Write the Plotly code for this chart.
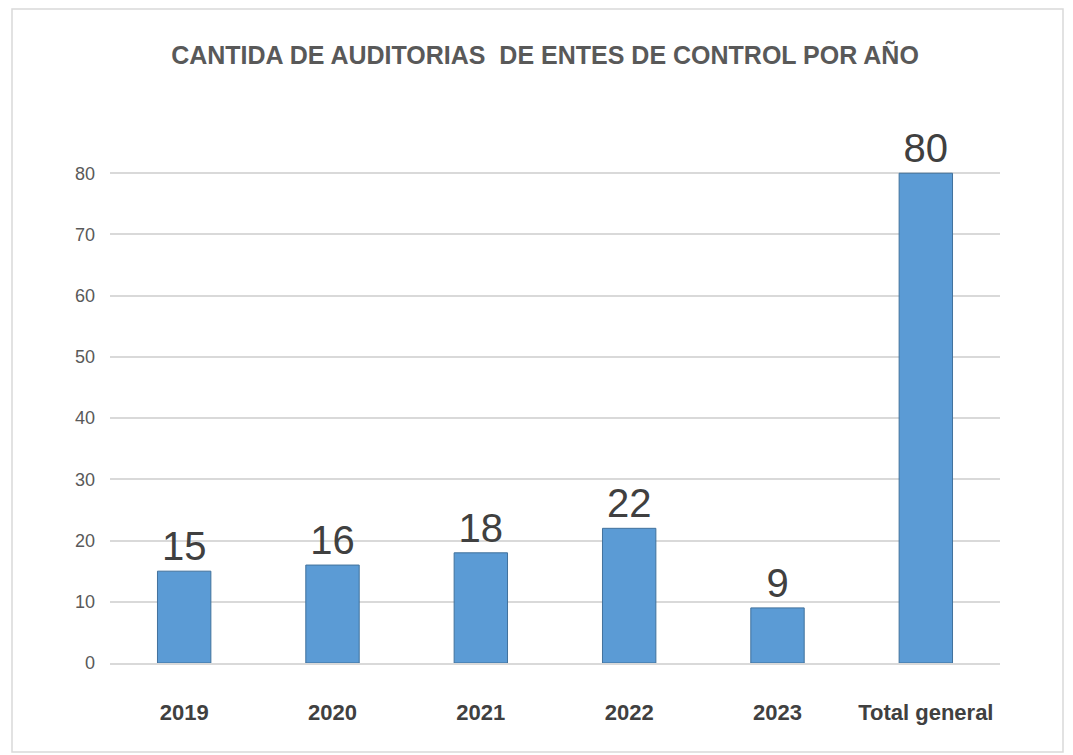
import plotly.graph_objects as go

categories = ["2019", "2020", "2021", "2022", "2023", "Total general"]
values = [15, 16, 18, 22, 9, 80]
y_ticks = [0, 10, 20, 30, 40, 50, 60, 70, 80]

# page has an 8px body margin; figure sized to fit the window
W, H = 1065, 747
ML, MR, MT, MB = 102, 73, 153, 92
FONT = "Liberation Sans, Arial, sans-serif"

fig = go.Figure()
fig.add_trace(go.Bar(
    x=categories, y=values,
    marker=dict(color="#5B9BD5", line=dict(color="#41719C", width=1)),
    width=0.36,
    text=[str(v) for v in values],
    textposition="outside",
    textfont=dict(size=40, color="#404040", family=FONT),
    cliponaxis=False,
))

pw = W - ML - MR
ph = H - MT - MB
fig.add_shape(type="rect", xref="paper", yref="paper",
              x0=(4 - ML) / pw, x1=(1055 - ML) / pw,
              y0=(H - MB - 744) / ph, y1=(H - MB - 1) / ph,
              line=dict(color="#D9D9D9", width=1.5), fillcolor="rgba(0,0,0,0)", layer="below")

fig.update_layout(
    width=W, height=H,
    margin=dict(l=ML, r=MR, t=MT, b=MB),
    paper_bgcolor="white", plot_bgcolor="white",
    title=dict(text="<b>CANTIDA DE AUDITORIAS  DE ENTES DE CONTROL POR AÑO</b>",
               x=537 / W, xanchor="center", y=1 - 47 / H, yanchor="middle",
               font=dict(size=25, color="#595959", family=FONT)),
    showlegend=False,
)
fig.update_xaxes(showgrid=False, showline=True, linecolor="#D9D9D9", linewidth=1.5,
                 ticks="", tickfont=dict(size=22, color="#404040", family=FONT),
                 tickprefix="<b>", ticksuffix="</b>",
                 ticklabelstandoff=29)
fig.update_yaxes(range=[0, 82], tickvals=y_ticks, showgrid=True, gridcolor="#D9D9D9",
                 gridwidth=1.5, zeroline=False, showline=False, ticks="",
                 tickfont=dict(size=18, color="#595959", family=FONT),
                 ticklabelstandoff=14)

fig.write_html("out.html")
